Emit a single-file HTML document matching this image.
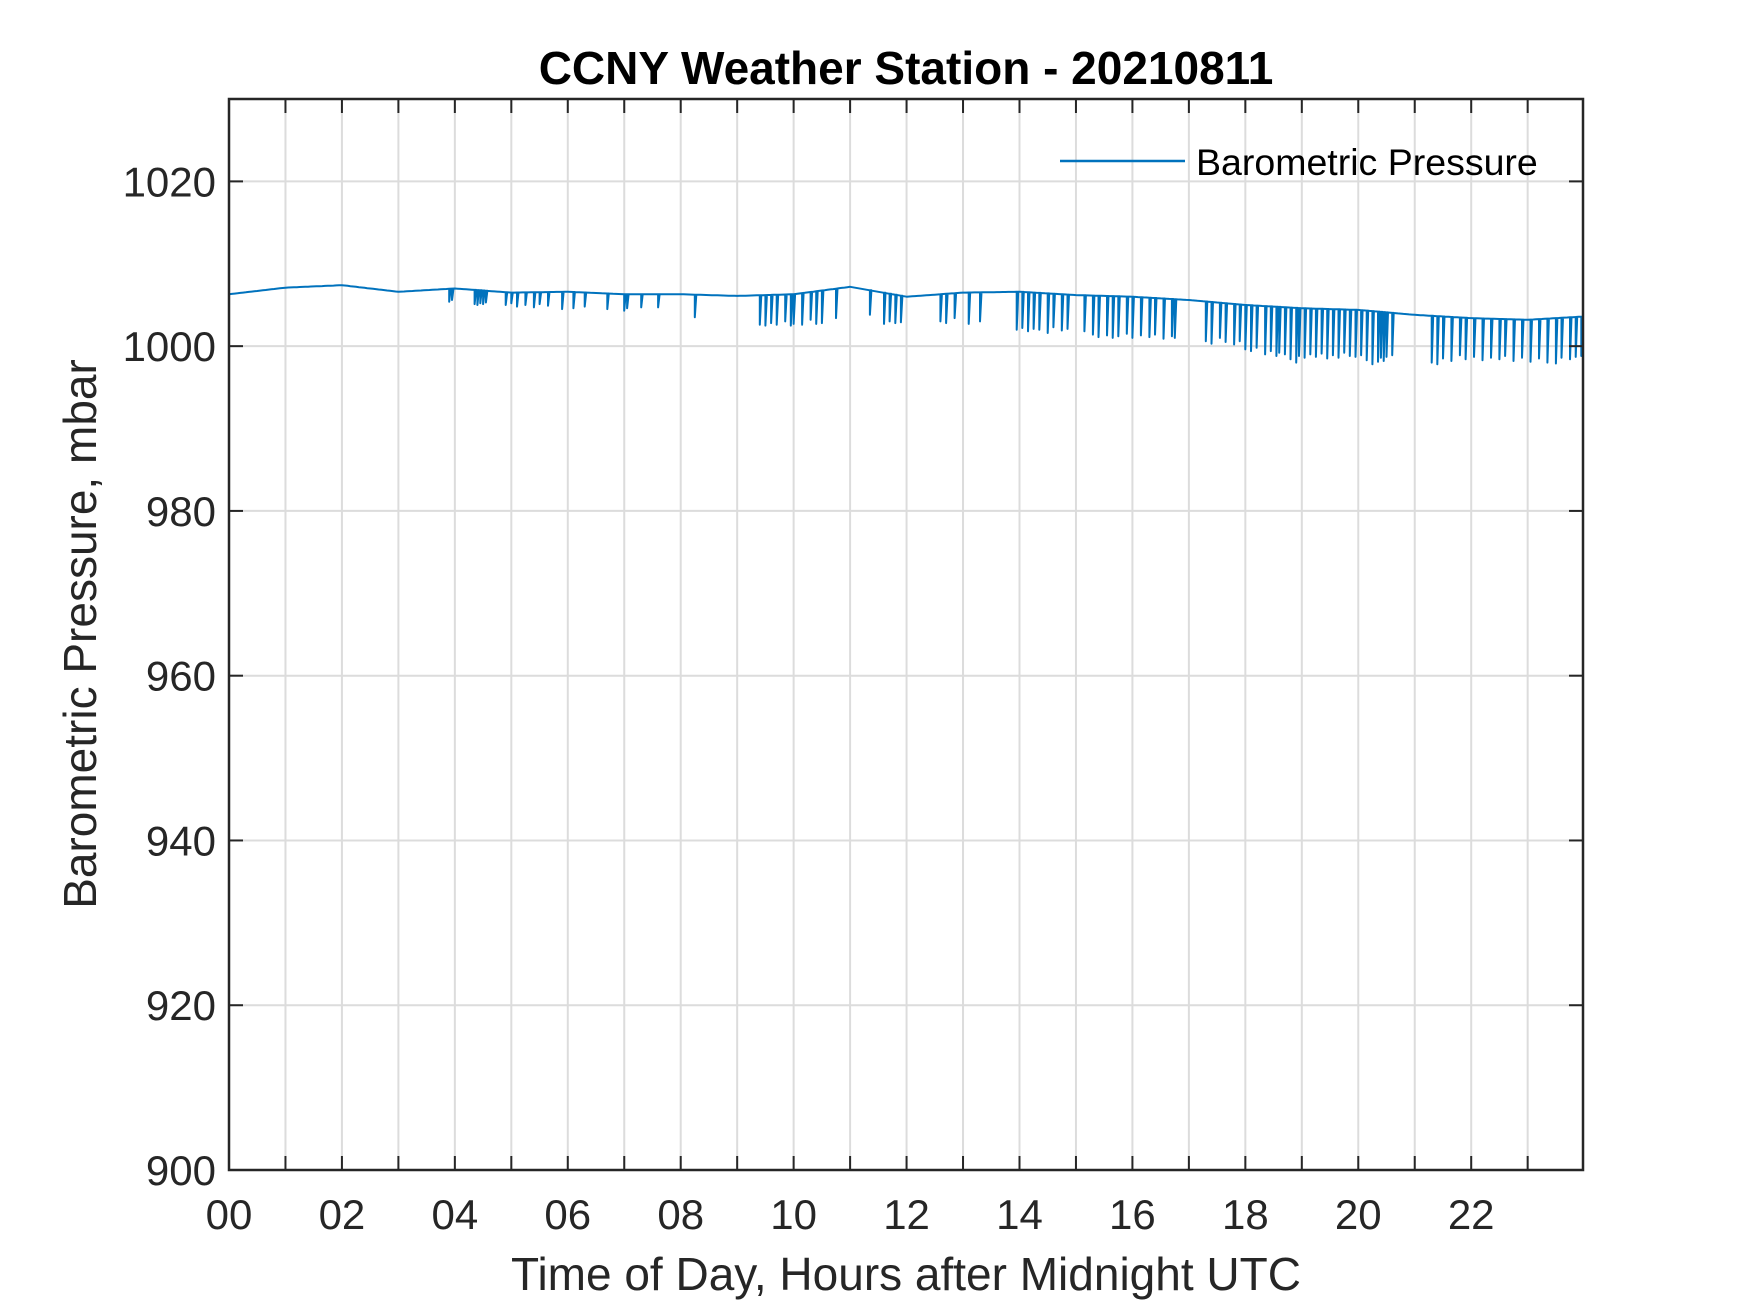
<!DOCTYPE html>
<html><head><meta charset="utf-8"><style>
html,body{margin:0;padding:0;background:#fff;}
svg{display:block;font-family:"Liberation Sans",Arial,sans-serif;}
</style></head><body>
<svg id="chart" width="1750" height="1313" viewBox="0 0 1750 1313" xmlns="http://www.w3.org/2000/svg">
<rect width="1750" height="1313" fill="#fff"/>
<g id="grid"></g>
<g id="series"></g>
<g id="axes"></g>
<text x="906" y="84" text-anchor="middle" font-size="46" font-weight="bold" fill="#000">CCNY Weather Station - 20210811</text>
<text x="906" y="1290" text-anchor="middle" font-size="46" fill="#262626">Time of Day, Hours after Midnight UTC</text>
<text transform="translate(96,634) rotate(-90)" text-anchor="middle" font-size="46" fill="#262626">Barometric Pressure, mbar</text>
<g>
<line x1="1060" y1="161" x2="1185" y2="161" stroke="#0072BD" stroke-width="2.5"/>
<text x="1196" y="175" font-size="37.5" fill="#000">Barometric Pressure</text>
</g>
</svg>
<script>
const baseTimes=[0,1,2,3,4,5,6,7,8,9,10,11,12,13,14,15,16,17,18,19,20,21,22,23,24];
const baseValues=[1006.3,1007.1,1007.4,1006.6,1007.0,1006.5,1006.6,1006.3,1006.3,1006.1,1006.3,1007.2,1006.0,1006.5,1006.6,1006.2,1006.0,1005.6,1005.0,1004.6,1004.4,1003.8,1003.4,1003.2,1003.6];
const spikeTimes=[3.9,3.95,4.35,4.4,4.45,4.5,4.55,4.9,5.0,5.1,5.25,5.4,5.5,5.65,5.9,6.1,6.3,6.7,7.0,7.05,7.3,7.6,8.25,9.4,9.5,9.6,9.7,9.85,9.95,10.0,10.15,10.3,10.4,10.5,10.75,11.35,11.6,11.7,11.8,11.9,12.6,12.7,12.85,13.1,13.3,13.95,14.05,14.15,14.25,14.35,14.5,14.6,14.75,14.85,15.15,15.3,15.4,15.55,15.65,15.75,15.9,16.0,16.15,16.3,16.4,16.55,16.7,16.75,17.3,17.4,17.55,17.65,17.8,17.9,18.0,18.1,18.2,18.35,18.45,18.55,18.6,18.7,18.8,18.9,18.95,19.05,19.15,19.25,19.35,19.45,19.55,19.65,19.75,19.85,19.95,20.05,20.15,20.25,20.35,20.4,20.45,20.5,20.6,21.3,21.4,21.5,21.65,21.8,21.9,22.05,22.2,22.35,22.5,22.6,22.75,22.9,23.05,23.2,23.35,23.5,23.6,23.75,23.85,23.95];
const spikeLows=[1005.4,1005.6,1005.1,1005.0,1005.2,1005.1,1005.3,1005.0,1005.2,1004.8,1005.0,1004.7,1005.1,1004.9,1004.5,1004.6,1004.8,1004.5,1004.3,1004.6,1004.7,1004.7,1003.5,1002.6,1002.5,1002.8,1002.6,1003.0,1002.5,1002.7,1002.6,1003.2,1002.7,1002.8,1003.4,1003.8,1002.7,1003.0,1002.8,1002.9,1003.0,1002.8,1003.4,1002.7,1003.0,1002.0,1002.2,1001.8,1002.1,1002.0,1001.6,1002.3,1001.9,1002.1,1001.8,1001.4,1001.1,1001.3,1001.0,1001.2,1001.5,1001.0,1001.3,1001.1,1001.4,1000.9,1001.2,1001.0,1000.6,1000.3,1001.0,1000.5,1000.2,1000.6,999.6,999.4,999.8,999.0,999.4,998.8,999.2,999.0,998.4,998.0,998.8,998.6,999.0,998.7,999.1,998.5,998.9,998.6,999.2,998.8,998.7,998.9,998.3,997.8,998.1,998.6,998.2,998.7,998.9,998.0,997.8,998.5,998.2,998.9,998.4,998.7,998.3,998.6,998.4,998.8,998.2,998.6,998.1,998.5,998.0,997.9,998.6,998.4,998.7,998.8];
const yTicks=[900,920,940,960,980,1000,1020];
const xTicks=[0,2,4,6,8,10,12,14,16,18,20,22];
const xLabels=["00","02","04","06","08","10","12","14","16","18","20","22"];

const L=229,R=1583,T=99,B=1170,X0=0,X1=23.98,Y0=900,Y1=1030;
const NS="http://www.w3.org/2000/svg";
const sx=v=>L+(v-X0)/(X1-X0)*(R-L);
const sy=v=>B-(v-Y0)/(Y1-Y0)*(B-T);
function mk(tag,attrs,parent){const e=document.createElementNS(NS,tag);for(const k in attrs)e.setAttribute(k,attrs[k]);parent.appendChild(e);return e;}
function base(t){for(let i=0;i<baseTimes.length-1;i++){if(t<=baseTimes[i+1]){const f=(t-baseTimes[i])/(baseTimes[i+1]-baseTimes[i]);return baseValues[i]+f*(baseValues[i+1]-baseValues[i]);}}return baseValues[baseValues.length-1];}
const grid=document.getElementById('grid'),axes=document.getElementById('axes'),series=document.getElementById('series');
for(let h=1;h<24;h++){
 const g=mk('line',{x1:sx(h),x2:sx(h),y1:T,y2:B,stroke:'#dcdcdc','stroke-width':2},grid);
 
 
 const t1=mk('line',{x1:sx(h),x2:sx(h),y1:B,y2:B-14,stroke:'#262626','stroke-width':2},axes);
 
 
 const t2=mk('line',{x1:sx(h),x2:sx(h),y1:T,y2:T+14,stroke:'#262626','stroke-width':2},axes);
 
 
}
yTicks.forEach(v=>{
 if(v>900){const g=mk('line',{x1:L,x2:R,y1:sy(v),y2:sy(v),stroke:'#dcdcdc','stroke-width':2},grid);
 
 
 const a=mk('line',{x1:L,x2:L+14,y1:sy(v),y2:sy(v),stroke:'#262626','stroke-width':2},axes);
 
 
 const b=mk('line',{x1:R,x2:R-14,y1:sy(v),y2:sy(v),stroke:'#262626','stroke-width':2},axes);
 
 }
 const lab=mk('text',{x:L-13,y:sy(v)+15,'text-anchor':'end','font-size':42,fill:'#262626'},axes);
 
 
 lab.textContent=v;
});
xTicks.forEach((v,i)=>{
 const lab=mk('text',{x:sx(v),y:B+59,'text-anchor':'middle','font-size':42,fill:'#262626'},axes);
 
 
 lab.textContent=xLabels[i];
});
const box=mk('rect',{x:L,y:T,width:R-L,height:B-T,fill:'none',stroke:'#262626','stroke-width':2.5},axes);


let pts=[];let si=0;
for(let t=0;t<=X1+1e-9;t+=0.05){
 const tt=Math.round(t*100)/100;
 while(si<spikeTimes.length&&spikeTimes[si]<=tt){const st=spikeTimes[si];const bv=base(st);pts.push([sx(st),sy(bv)],[sx(st),sy(spikeLows[si])],[sx(st)+1.5,sy(bv)]);si++;}
 pts.push([sx(tt),sy(base(tt))]);
}
const p=mk('polyline',{points:pts.map(q=>q[0].toFixed(1)+','+q[1].toFixed(1)).join(' '),fill:'none',stroke:'#0072BD','stroke-width':2,'stroke-linejoin':'round'},series);


</script>
</body></html>
